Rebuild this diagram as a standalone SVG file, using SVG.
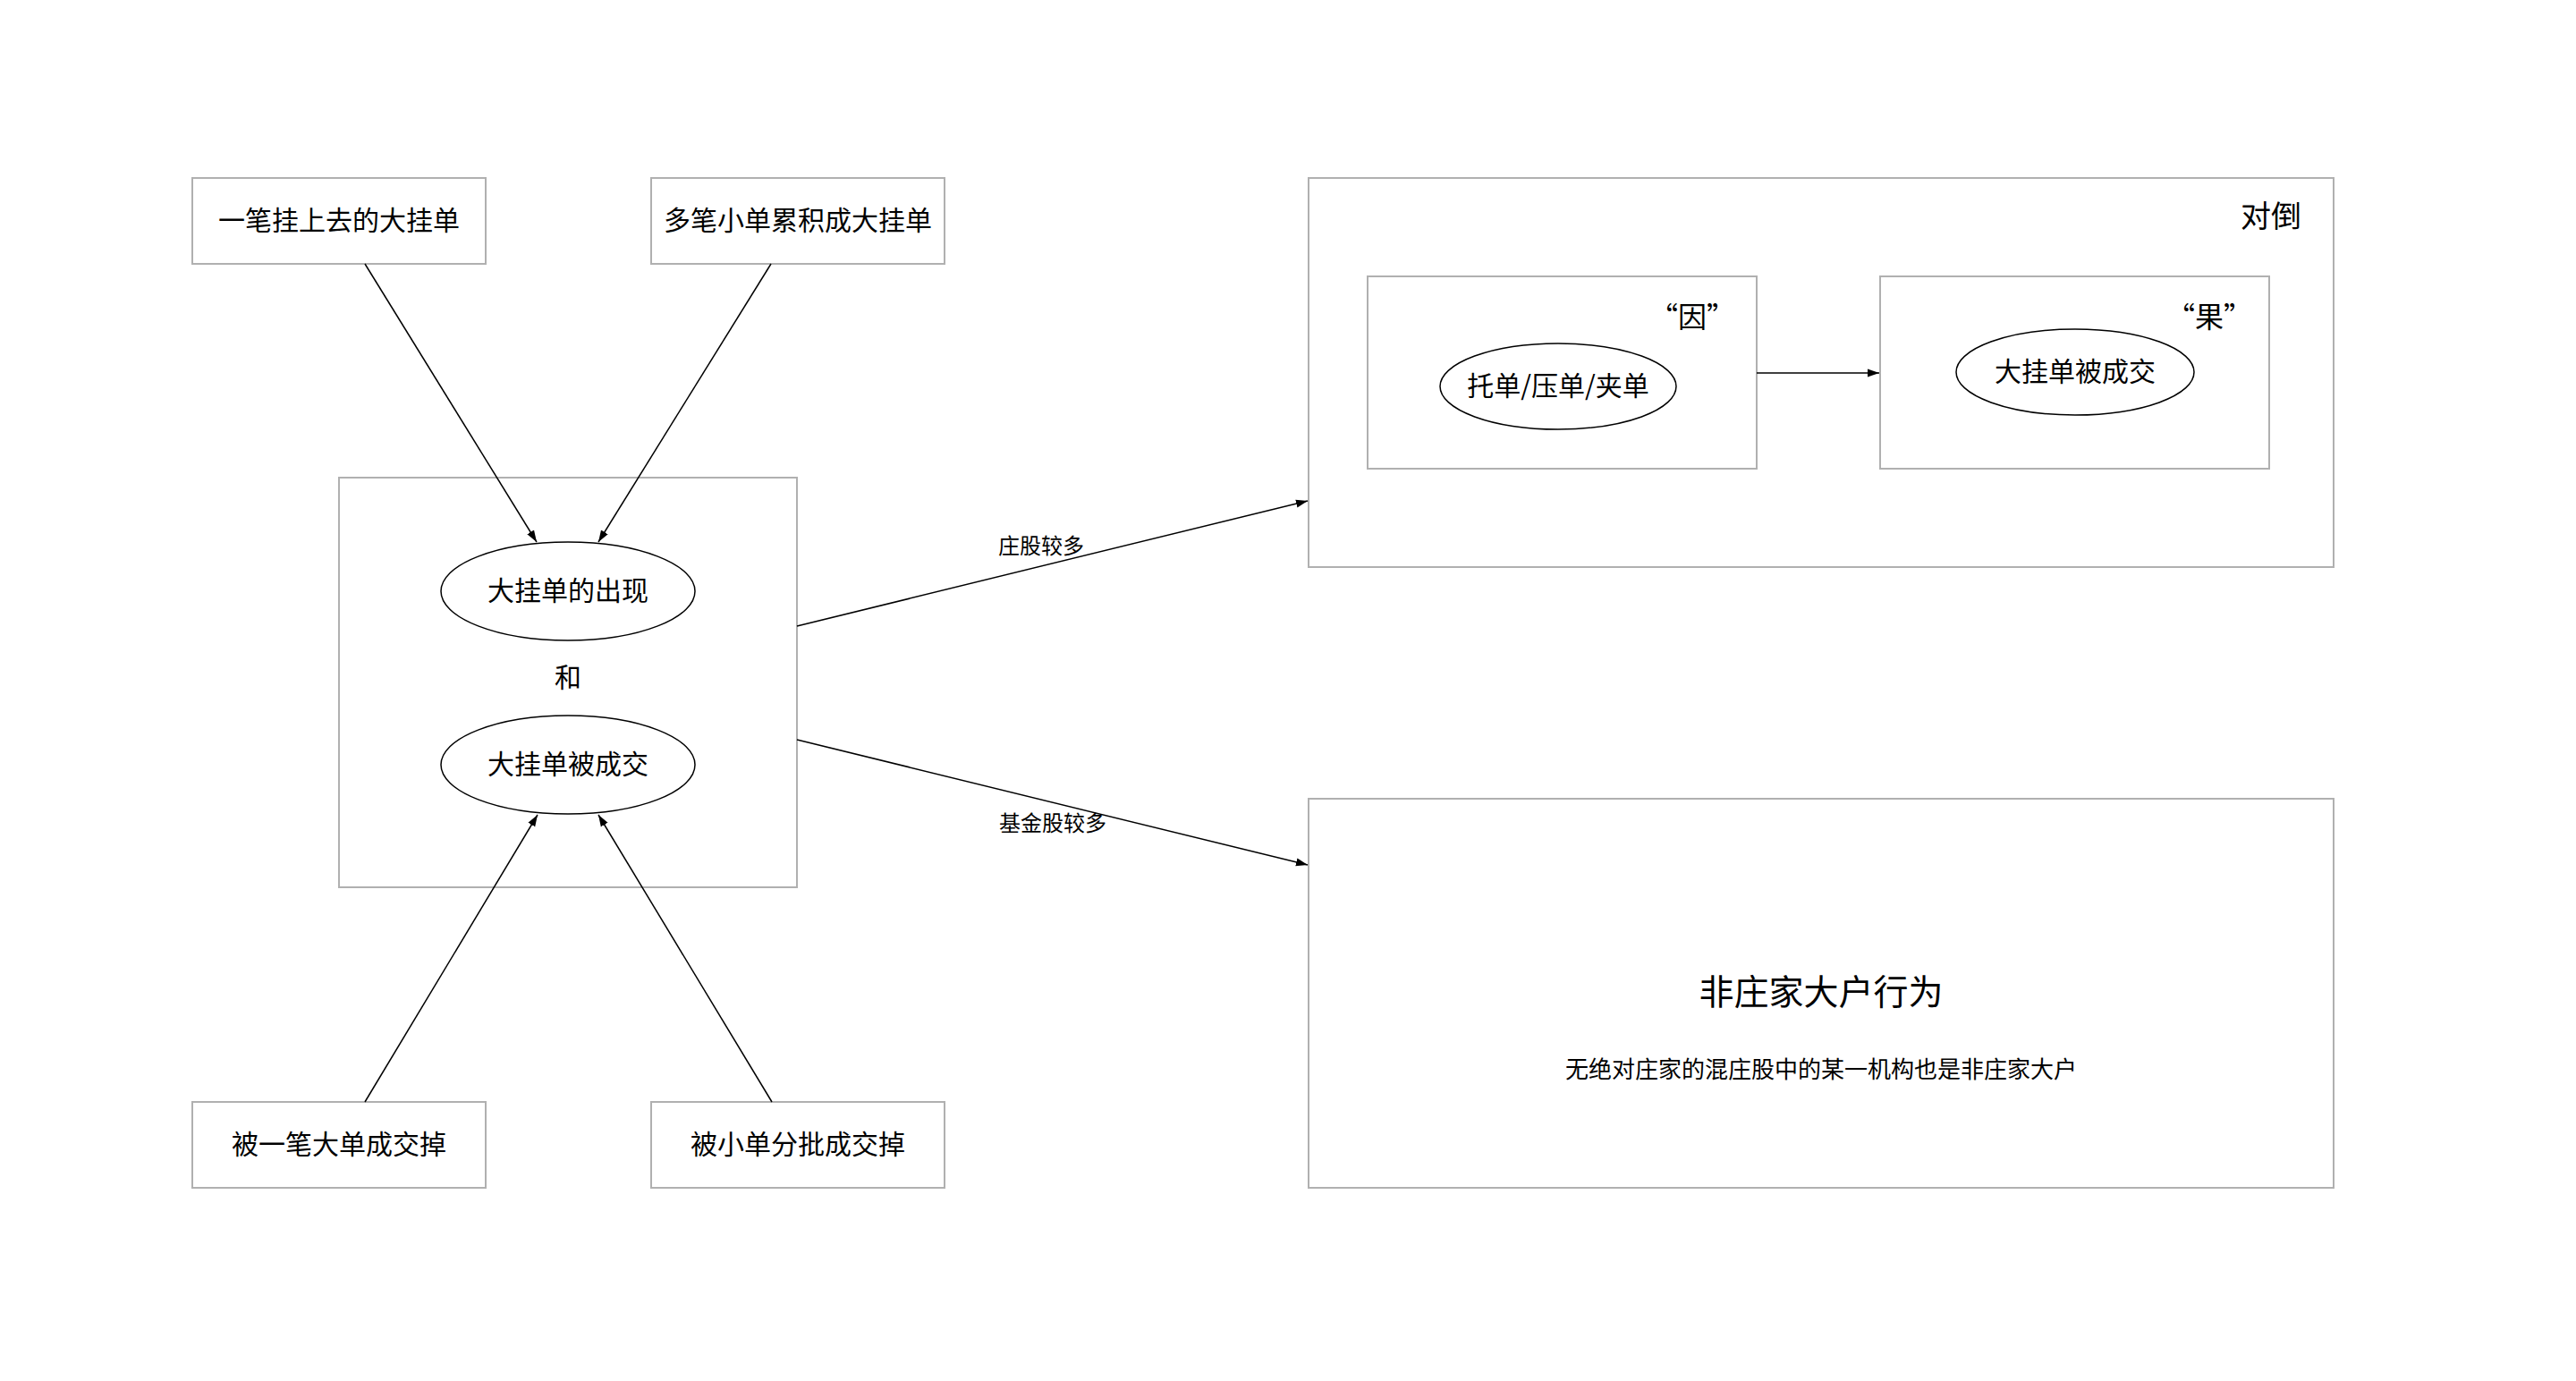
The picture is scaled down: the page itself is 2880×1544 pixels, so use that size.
<svg xmlns="http://www.w3.org/2000/svg" width="2880" height="1544" viewBox="0 0 2880 1544">
<style>
.box{fill:#fff;stroke:#b0b0b0;stroke-width:2}
.ell{fill:#fff;stroke:#000;stroke-width:1.5}
.t{font-family:"Noto Sans CJK SC","Noto Sans",sans-serif;fill:#000;text-anchor:middle;dominant-baseline:central}
.conn{stroke:#000;stroke-width:1.5;fill:none;marker-end:url(#arr)}
</style>
<defs>
<marker id="arr" markerUnits="userSpaceOnUse" markerWidth="14" markerHeight="10" refX="13" refY="5" orient="auto">
<path d="M0,0.5 L13,5 L0,9.5 z" fill="#000"/>
</marker>
</defs>
<rect width="2880" height="1544" fill="#fff"/>
<g id="n-yibi">
<rect class="box" x="215" y="199" width="328" height="96"/>
<text class="t" x="379" y="244" font-size="30">一笔挂上去的大挂单</text>
</g>
<g id="n-duobi">
<rect class="box" x="728" y="199" width="328" height="96"/>
<text class="t" x="892" y="244" font-size="30">多笔小单累积成大挂单</text>
</g>
<g id="n-center">
<rect class="box" x="379" y="534" width="512" height="458"/>
<text class="t" x="635" y="755" font-size="30">和</text>
</g>
<g id="n-chuxian">
<ellipse class="ell" cx="635" cy="661" rx="142" ry="55"/>
<text class="t" x="635" y="658" font-size="30">大挂单的出现</text>
</g>
<g id="n-chengjiao">
<ellipse class="ell" cx="635" cy="855" rx="142" ry="55"/>
<text class="t" x="635" y="852" font-size="30">大挂单被成交</text>
</g>
<g id="n-beiyibi">
<rect class="box" x="215" y="1232" width="328" height="96"/>
<text class="t" x="379" y="1277" font-size="30">被一笔大单成交掉</text>
</g>
<g id="n-beixiaodan">
<rect class="box" x="728" y="1232" width="328" height="96"/>
<text class="t" x="892" y="1277" font-size="30">被小单分批成交掉</text>
</g>
<g id="n-duidao">
<rect class="box" x="1463" y="199" width="1146" height="435"/>
<text class="t" x="2539" y="239" font-size="34">对倒</text>
</g>
<g id="n-yin">
<rect class="box" x="1529" y="309" width="435" height="215"/>
<text class="t" x="1892" y="352" font-size="32">“因”</text>
</g>
<g id="n-tuodan">
<ellipse class="ell" cx="1742" cy="432" rx="132" ry="48"/>
<text class="t" x="1742" y="429" font-size="30">托单/压单/夹单</text>
</g>
<g id="n-guo">
<rect class="box" x="2102" y="309" width="435" height="215"/>
<text class="t" x="2470" y="352" font-size="32">“果”</text>
</g>
<g id="n-guochengjiao">
<ellipse class="ell" cx="2320" cy="416" rx="133" ry="48"/>
<text class="t" x="2320" y="413" font-size="30">大挂单被成交</text>
</g>
<g id="n-feizhuang">
<rect class="box" x="1463" y="893" width="1146" height="435"/>
<text class="t" x="2036" y="1106" font-size="39">非庄家大户行为</text>
<text class="t" x="2036" y="1193" font-size="26">无绝对庄家的混庄股中的某一机构也是非庄家大户</text>
</g>
<g id="connectors">
<line class="conn" x1="408" y1="295" x2="600" y2="606"/>
<line class="conn" x1="862" y1="295" x2="669" y2="606"/>
<line class="conn" x1="408" y1="1232" x2="601" y2="911"/>
<line class="conn" x1="863" y1="1232" x2="669" y2="911"/>
<line class="conn" x1="891" y1="700" x2="1462" y2="560"/>
<line class="conn" x1="891" y1="827" x2="1462" y2="967"/>
<line class="conn" x1="1964" y1="417" x2="2101" y2="417"/>
<text class="t" x="1164" y="608" font-size="24">庄股较多</text>
<text class="t" x="1177" y="918" font-size="24">基金股较多</text>
</g>
</svg>
